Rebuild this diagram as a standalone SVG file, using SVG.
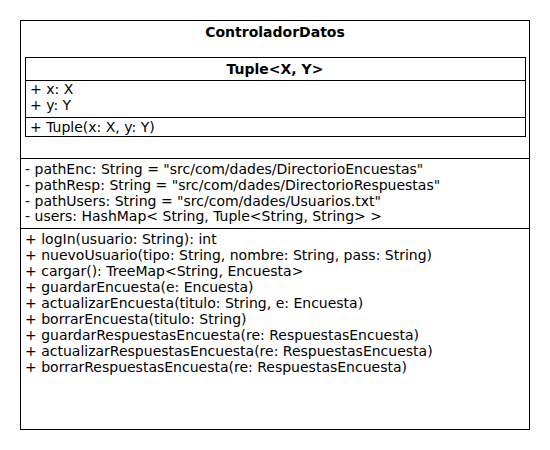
<svg xmlns="http://www.w3.org/2000/svg" width="550" height="450" viewBox="0 0 550 450">
<style>
text{font-family:"DejaVu Sans",sans-serif;font-size:14px;fill:#000}
.b{font-weight:bold;text-anchor:middle}
.box{fill:#fff;stroke:#000;stroke-width:1}
line{stroke:#000;stroke-width:1}
</style>
<rect width="550" height="450" fill="#fff"/>
<g id="ControladorDatos">
<rect class="box" x="20.5" y="20.5" width="509" height="409"/>
<text class="b" x="275" y="37">ControladorDatos</text>
<g id="Tuple">
<rect class="box" x="25.5" y="57.5" width="500" height="79"/>
<line x1="25.5" y1="80.5" x2="525.5" y2="80.5"/>
<line x1="25.5" y1="117.5" x2="525.5" y2="117.5"/>
<text class="b" x="275" y="74">Tuple&lt;X, Y&gt;</text>
<text x="30" y="94">+ x: X</text>
<text x="30" y="110">+ y: Y</text>
<text x="30" y="132">+ Tuple(x: X, y: Y)</text>
</g>
<line x1="20.5" y1="158.5" x2="529.5" y2="158.5"/>
<line x1="20.5" y1="228.5" x2="529.5" y2="228.5"/>
<text x="25" y="174">- pathEnc: String = "src/com/dades/DirectorioEncuestas"</text>
<text x="25" y="190">- pathResp: String = "src/com/dades/DirectorioRespuestas"</text>
<text x="25" y="206">- pathUsers: String = "src/com/dades/Usuarios.txt"</text>
<text x="25" y="221">- users: HashMap&lt; String, Tuple&lt;String, String&gt; &gt;</text>
<text x="25" y="244">+ logIn(usuario: String): int</text>
<text x="25" y="260">+ nuevoUsuario(tipo: String, nombre: String, pass: String)</text>
<text x="25" y="276">+ cargar(): TreeMap&lt;String, Encuesta&gt;</text>
<text x="25" y="292">+ guardarEncuesta(e: Encuesta)</text>
<text x="25" y="308">+ actualizarEncuesta(titulo: String, e: Encuesta)</text>
<text x="25" y="324">+ borrarEncuesta(titulo: String)</text>
<text x="25" y="340">+ guardarRespuestasEncuesta(re: RespuestasEncuesta)</text>
<text x="25" y="356">+ actualizarRespuestasEncuesta(re: RespuestasEncuesta)</text>
<text x="25" y="372">+ borrarRespuestasEncuesta(re: RespuestasEncuesta)</text>
</g>
<g id="connectors"/>
</svg>
